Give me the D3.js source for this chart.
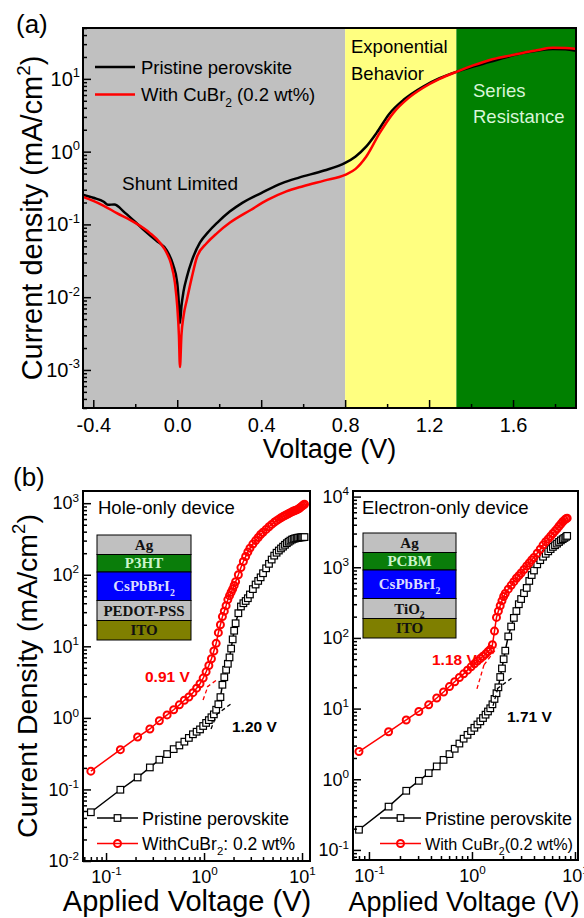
<!DOCTYPE html>
<meta charset="utf-8">
<style>
body { margin: 0; background: #fff; }
svg { font-family: "Liberation Sans", Arial, sans-serif; }
.frame { fill: none; stroke: #000; stroke-width: 2; }
.axis line { stroke: #000; stroke-width: 1.5; }
.axis path { display: none; }
.axis text { fill: #000; }
.inset text { font-family: "Liberation Serif", "Times New Roman", serif; font-weight: bold; font-size: 15px; }
</style>
<svg class="chart" width="584" height="918"></svg>
<script src="https://d3js.org/d3.v7.min.js"></script>
<script>

// ---------- data, panel (a): J-V curves on a log scale
var voltsPristineA = [-0.449, -0.40, -0.35, -0.33, -0.30, -0.25, -0.20, -0.16, -0.10, -0.05, -0.02, 0.0, 0.008, 0.013, 0.02, 0.03, 0.046, 0.07, 0.108, 0.15, 0.19, 0.25, 0.31, 0.40, 0.50, 0.58, 0.70, 0.80, 0.85, 0.90, 0.95, 1.01, 1.08, 1.17, 1.25, 1.33, 1.41, 1.49, 1.57, 1.65, 1.72, 1.79, 1.85, 1.90];
var jPristineA = [0.255, 0.232, 0.205, 0.186, 0.188, 0.145, 0.108, 0.084, 0.06, 0.044, 0.028, 0.0157, 0.008, 0.0044, 0.0075, 0.012, 0.019, 0.032, 0.056, 0.08, 0.105, 0.15, 0.198, 0.27, 0.37, 0.44, 0.55, 0.70, 0.86, 1.17, 1.81, 3.3, 5.2, 7.8, 10.2, 12.5, 14.8, 17.1, 20, 22.8, 24.5, 25.7, 25.5, 24.3];
var voltsCuBrA = [-0.449, -0.40, -0.35, -0.29, -0.20, -0.13, -0.08, -0.05, -0.03, -0.011, 0.0, 0.008, 0.013, 0.02, 0.03, 0.046, 0.07, 0.094, 0.14, 0.19, 0.25, 0.35, 0.43, 0.52, 0.60, 0.70, 0.80, 0.85, 0.90, 0.965, 1.03, 1.10, 1.17, 1.25, 1.33, 1.41, 1.49, 1.57, 1.65, 1.72, 1.79, 1.85, 1.90];
var jCuBrA = [0.239, 0.21, 0.18, 0.144, 0.105, 0.076, 0.055, 0.0405, 0.029, 0.0157, 0.0075, 0.003, 0.0011, 0.003, 0.0055, 0.0092, 0.019, 0.0357, 0.055, 0.076, 0.105, 0.158, 0.217, 0.285, 0.335, 0.40, 0.48, 0.58, 0.85, 1.81, 3.41, 5.4, 7.5, 10, 12.5, 15.3, 18.2, 20.5, 22.8, 25, 26.7, 26.5, 25.7];

var regionEdgesA = [-0.449, 0.8, 1.33, 1.9];
var regionColorsA = ["#c0c0c0", "#ffff80", "#008000"];
var yDomainA = [3e-4, 50];
var xTicksA = [-0.4, 0, 0.4, 0.8, 1.2, 1.6];
var xMinorA = [-0.2, 0.2, 0.6, 1.0, 1.4, 1.8];
var yTicksA = [1e-3, 1e-2, 1e-1, 1, 10];

// ---------- data, panel (b): space-charge-limited current, hole-only device
var holeVolts = [0.07, 0.14, 0.21, 0.28, 0.35, 0.42, 0.49, 0.56, 0.63, 0.70, 0.77, 0.84, 0.91, 0.98, 1.05, 1.12, 1.19, 1.26, 1.33, 1.40, 1.47, 1.54, 1.61, 1.68, 1.75, 1.82, 1.89, 1.96, 2.03, 2.10, 2.24, 2.38, 2.52, 2.66, 2.80, 2.94, 3.15, 3.36, 3.57, 3.78, 4.0, 4.3, 4.6, 4.9, 5.2, 5.5, 5.8, 6.1, 6.4, 6.7, 7.0, 7.3, 7.6, 7.9, 8.2, 8.5, 8.8, 9.1, 9.4, 9.7, 10.0, 10.3, 10.6];
var holePristine = [0.048, 0.099, 0.147, 0.203, 0.26, 0.312, 0.366, 0.412, 0.465, 0.525, 0.59, 0.64, 0.69, 0.77, 0.85, 0.93, 1.02, 1.12, 1.30, 1.55, 1.95, 2.9, 3.7, 4.7, 5.7, 7.0, 9.3, 12.5, 16.5, 21, 29, 36, 40, 43, 47, 53, 63, 73, 82, 92, 105, 123, 142, 163, 185, 203, 218, 233, 247, 262, 276, 289, 300, 310, 317, 322, 326, 329, 331, 333, 334, 335, 336];
var holeCuBr = [0.18, 0.36, 0.54, 0.70, 0.91, 1.10, 1.30, 1.52, 1.76, 1.96, 2.25, 2.6, 3.0, 3.6, 4.4, 5.4, 6.7, 8.6, 11.0, 15.5, 20, 26, 31, 37, 45, 51, 57, 63, 71, 80, 100, 126, 153, 180, 208, 235, 268, 300, 332, 365, 393, 430, 468, 505, 540, 570, 598, 625, 650, 672, 695, 716, 737, 757, 775, 792, 805, 825, 850, 880, 910, 940, 968];

// ---------- data, panel (b): electron-only device
var elecVolts = [0.08, 0.155, 0.23, 0.305, 0.38, 0.455, 0.53, 0.605, 0.68, 0.755, 0.83, 0.905, 0.98, 1.055, 1.13, 1.205, 1.28, 1.355, 1.43, 1.505, 1.58, 1.655, 1.73, 1.805, 1.88, 1.955, 2.03, 2.105, 2.25, 2.4, 2.55, 2.7, 2.85, 3.0, 3.2, 3.4, 3.6, 3.8, 4.0, 4.3, 4.6, 4.9, 5.2, 5.5, 5.8, 6.1, 6.4, 6.7, 7.0, 7.3, 7.6, 7.9, 8.2, 8.4];
var elecPristine = [0.193, 0.41, 0.687, 0.95, 1.22, 1.52, 1.88, 2.27, 2.7, 3.2, 3.75, 4.25, 4.8, 5.35, 5.95, 6.6, 7.35, 8.2, 9.1, 10.1, 11.5, 13.7, 16.5, 20, 28, 37, 50, 66, 105, 145, 192, 240, 300, 355, 430, 510, 640, 776, 900, 1100, 1260, 1410, 1550, 1680, 1810, 1940, 2050, 2160, 2280, 2400, 2500, 2600, 2700, 2780];
var elecCuBr = [2.47, 4.7, 6.9, 9.1, 11.3, 14.1, 17.2, 20.5, 24, 27.5, 31, 35, 39, 43, 47, 51, 55, 59, 64, 69, 80, 125, 195, 240, 285, 335, 385, 425, 490, 555, 625, 700, 760, 830, 930, 1040, 1150, 1270, 1380, 1580, 1800, 2060, 2300, 2520, 2750, 3000, 3250, 3500, 3800, 4100, 4400, 4650, 4850, 4950];

// tangent lines used for the trap-filled limit voltages, [V, J] end points
var holeTangentsCuBr = [[[0.977, 1.78], [1.099, 2.79]], [[1.073, 2.70], [1.39, 3.5]]];
var holeTangentsPristine = [[[1.179, 0.70], [1.326, 1.06]], [[1.326, 1.10], [1.93, 1.61]]];
var elecTangentsCuBr = [[[1.118, 19.0], [1.308, 41.5]], [[1.308, 41.5], [1.748, 72.3]]];
var elecTangentsPristine = [[[1.60, 10.9], [1.788, 19.6]], [[1.749, 19.0], [2.445, 27.2]]];

var holeLayers = ["Ag", "P3HT", "CsPbBrI_2", "PEDOT-PSS", "ITO"];
var elecLayers = ["Ag", "PCBM", "CsPbBrI_2", "TiO_2", "ITO"];

var holeYDomain = [0.01, 1480], holeXDomain = [0.0582, 12.06];
var elecYDomain = [0.072, 12000], elecXDomain = [0.070, 10.7];
var holeYTicks = [1e-2, 1e-1, 1, 10, 100, 1000];
var elecYTicks = [1e-1, 1, 10, 100, 1000, 10000];
var bXTicks = [0.1, 1, 10];

// ---------- helpers
var svg = d3.select(".chart");

// write text made of plain / superscript / subscript pieces
function rich(textSel, parts, fs) {
  var shift = 0;
  parts.forEach(function(p) {
    var ts = textSel.append("tspan").text(p[0]);
    var target = p[1] === "sup" ? -0.42 * fs : p[1] === "sub" ? 0.3 * fs : 0;
    if (target !== shift) ts.attr("dy", target - shift);
    if (p[1]) ts.attr("font-size", fs * 0.65);
    shift = target;
  });
}

function label(x, y, parts, fs, opts) {
  opts = opts || {};
  var t = svg.append("text").attr("x", x).attr("y", y).attr("font-size", fs)
    .attr("fill", opts.fill || "#000")
    .attr("text-anchor", opts.anchor || "start")
    .attr("font-weight", opts.bold ? "bold" : null);
  if (opts.rotate) t.attr("x", null).attr("y", null).attr("transform", "translate(" + x + "," + y + ") rotate(-90)");
  rich(t, parts, fs);
  return t;
}

function powTicks(g, fs) {
  g.selectAll(".tick text").each(function(d) {
    var t = d3.select(this).text(null);
    rich(t, [["10", ""], [String(Math.round(Math.log10(d))), "sup"]], fs);
  });
}

function logMinor(domain) {
  var out = [];
  for (var e = Math.floor(Math.log10(domain[0])); e <= Math.ceil(Math.log10(domain[1])); e++)
    for (var k = 2; k <= 9; k++) {
      var v = k * Math.pow(10, e);
      if (v >= domain[0] && v <= domain[1]) out.push(v);
    }
  return out;
}

function axes(box, x, y, o) {
  svg.append("g").attr("class", "axis").attr("transform", "translate(0," + box.bottom + ")")
    .call(d3.axisBottom(x).tickValues(o.xMinor).tickSizeInner(-4).tickSizeOuter(0).tickFormat(""));
  var xb = svg.append("g").attr("class", "axis").attr("transform", "translate(0," + box.bottom + ")")
    .call(d3.axisBottom(x).tickValues(o.xTicks).tickSizeInner(-8).tickSizeOuter(0).tickPadding(o.xPad)
      .tickFormat(o.xFmt || function(d) { return d; }));
  xb.attr("font-size", o.fs).attr("font-family", null);
  if (o.xPow) powTicks(xb, o.fs);

  svg.append("g").attr("class", "axis").attr("transform", "translate(" + box.left + ",0)")
    .call(d3.axisLeft(y).tickValues(o.yMinor).tickSizeInner(-4).tickSizeOuter(0).tickFormat(""));
  var yb = svg.append("g").attr("class", "axis").attr("transform", "translate(" + box.left + ",0)")
    .call(d3.axisLeft(y).tickValues(o.yTicks).tickSizeInner(-8).tickSizeOuter(0).tickPadding(o.yPad)
      .tickFormat(function(d) { return d; }));
  yb.attr("font-size", o.fs).attr("font-family", null);
  powTicks(yb, o.fs);

  svg.append("rect").attr("class", "frame")
    .attr("x", box.left).attr("y", box.top)
    .attr("width", box.right - box.left).attr("height", box.bottom - box.top);
}

// ---------- panel (a)
var boxA = {left: 83, right: 576, top: 28, bottom: 408};
var xA = d3.scaleLinear().domain([regionEdgesA[0], regionEdgesA[regionEdgesA.length - 1]]).range([boxA.left, boxA.right]);
var yA = d3.scaleLog().domain(yDomainA).range([boxA.bottom, boxA.top]);

svg.append("g").selectAll("rect").data(regionColorsA).join("rect")
  .attr("x", function(d, i) { return xA(regionEdgesA[i]); })
  .attr("width", function(d, i) { return xA(regionEdgesA[i + 1]) - xA(regionEdgesA[i]); })
  .attr("y", boxA.top).attr("height", boxA.bottom - boxA.top)
  .attr("fill", function(d) { return d; });

var lineA = d3.line().x(function(d) { return xA(d[0]); }).y(function(d) { return yA(d[1]); })
  .curve(d3.curveMonotoneX);
svg.append("path").datum(d3.zip(voltsPristineA, jPristineA)).attr("d", lineA)
  .attr("fill", "none").attr("stroke", "#000").attr("stroke-width", 2.5);
svg.append("path").datum(d3.zip(voltsCuBrA, jCuBrA)).attr("d", lineA)
  .attr("fill", "none").attr("stroke", "#ff0000").attr("stroke-width", 2.5);

label(122, 190, [["Shunt Limited", ""]], 19);
label(351, 53, [["Exponential", ""]], 18.5);
label(351, 80, [["Behavior", ""]], 18.5);
label(473, 97, [["Series", ""]], 18.5, {fill: "#d8f5d8"});
label(473, 123, [["Resistance", ""]], 18.5, {fill: "#d8f5d8"});

// legend (a)
svg.append("line").attr("x1", 95).attr("x2", 135).attr("y1", 67).attr("y2", 67)
  .attr("stroke", "#000").attr("stroke-width", 2.5);
svg.append("line").attr("x1", 95).attr("x2", 135).attr("y1", 94.5).attr("y2", 94.5)
  .attr("stroke", "#ff0000").attr("stroke-width", 2.5);
label(141, 73.5, [["Pristine perovskite", ""]], 18.5);
label(141, 101, [["With CuBr", ""], ["2", "sub"], [" (0.2 wt%)", ""]], 18.5);

axes(boxA, xA, yA, {
  xTicks: xTicksA, xMinor: xMinorA, xPad: 10, fs: 20,
  xFmt: function(d) { return d.toFixed(1); },
  yTicks: yTicksA, yMinor: logMinor(yDomainA), yPad: 3
});

label(16, 33, [["(a)", ""]], 26);
label(42, 218, [["Current density (mA/cm", ""], ["2", "sup"], [")", ""]], 29, {rotate: true, anchor: "middle"});
label((boxA.left + boxA.right) / 2, 458, [["Voltage (V)", ""]], 27, {anchor: "middle"});

// ---------- panel (b)
var layerFill = {"Ag": "#c0c0c0", "P3HT": "#0a7d0a", "PCBM": "#0a7d0a", "CsPbBrI_2": "#0000ff",
  "PEDOT-PSS": "#c0c0c0", "TiO_2": "#c0c0c0", "ITO": "#7f7f00"};
var layerInk = {"P3HT": "#ccf5cc", "PCBM": "#ccf5cc", "CsPbBrI_2": "#dcdcff"};
var layerH = [19.5, 17.5, 28.5, 20, 19.5];

function stack(names, x0, y0, w) {
  var g = svg.append("g").attr("class", "inset");
  var yy = y0;
  names.forEach(function(n, i) {
    var h = layerH[i];
    g.append("rect").attr("x", x0).attr("y", yy).attr("width", w).attr("height", h)
      .attr("fill", layerFill[n]).attr("stroke", "#000").attr("stroke-width", 1);
    var t = g.append("text").attr("x", x0 + w / 2).attr("y", yy + h / 2 + 5)
      .attr("text-anchor", "middle").attr("fill", layerInk[n] || "#111");
    var bits = n.split("_");
    rich(t, bits.length > 1 ? [[bits[0], ""], [bits[1], "sub"]] : [[n, ""]], 15);
    yy += h;
  });
}

function squares(pts, x, y) {
  svg.append("g").selectAll("rect").data(pts).join("rect")
    .attr("x", function(d) { return x(d[0]) - 3.3; })
    .attr("y", function(d) { return y(d[1]) - 3.3; })
    .attr("width", 6.6).attr("height", 6.6)
    .attr("fill", "#fff").attr("stroke", "#000").attr("stroke-width", 1.2);
}
function circles(pts, x, y) {
  svg.append("g").selectAll("circle").data(pts).join("circle")
    .attr("cx", function(d) { return x(d[0]); })
    .attr("cy", function(d) { return y(d[1]); })
    .attr("r", 3.5).attr("fill", "none").attr("stroke", "#ff0000").attr("stroke-width", 2);
}

function devicePanel(c) {
  var x = d3.scaleLog().domain(c.xDomain).range([c.box.left, c.box.right]);
  var y = d3.scaleLog().domain(c.yDomain).range([c.box.bottom, c.box.top]);
  var line = d3.line().x(function(d) { return x(d[0]); }).y(function(d) { return y(d[1]); });
  var black = d3.zip(c.volts, c.pristine), red = d3.zip(c.volts, c.cubr);

  svg.append("path").datum(black).attr("d", line).attr("fill", "none")
    .attr("stroke", "#000").attr("stroke-width", 1.5);
  squares(black, x, y);
  svg.append("path").datum(red).attr("d", line).attr("fill", "none")
    .attr("stroke", "#ff0000").attr("stroke-width", 1.5);
  circles(red, x, y);

  [[c.tanCuBr, "#ff0000"], [c.tanPristine, "#000"]].forEach(function(tp) {
    svg.append("g").selectAll("path").data(tp[0]).join("path").attr("d", line)
      .attr("fill", "none").attr("stroke", tp[1]).attr("stroke-width", 1.3)
      .attr("stroke-dasharray", "4,3");
  });

  axes(c.box, x, y, {
    xTicks: bXTicks, xMinor: logMinor(c.xDomain), xPad: 9, fs: 18, xPow: true,
    yTicks: c.yTicks, yMinor: logMinor(c.yDomain), yPad: 4
  });

  // legend
  var lx = c.legend[0], ly = c.legend[1];
  svg.append("line").attr("x1", lx).attr("x2", lx + 41).attr("y1", ly).attr("y2", ly)
    .attr("stroke", "#000").attr("stroke-width", 1.5);
  svg.append("rect").attr("x", lx + 17.2).attr("y", ly - 3.3).attr("width", 6.6).attr("height", 6.6)
    .attr("fill", "#fff").attr("stroke", "#000").attr("stroke-width", 1.2);
  svg.append("line").attr("x1", lx).attr("x2", lx + 41).attr("y1", ly + 25.5).attr("y2", ly + 25.5)
    .attr("stroke", "#ff0000").attr("stroke-width", 1.5);
  svg.append("circle").attr("cx", lx + 20.5).attr("cy", ly + 25.5).attr("r", 3.5)
    .attr("fill", "none").attr("stroke", "#ff0000").attr("stroke-width", 2);
  label(lx + 45, ly + 6.5, [["Pristine perovskite", ""]], 18);
  label(lx + 45, ly + 32, c.cubrLabel, c.cubrSize);
}

devicePanel({
  box: {left: 83, right: 310, top: 491, bottom: 861},
  xDomain: holeXDomain, yDomain: holeYDomain, yTicks: holeYTicks,
  volts: holeVolts, pristine: holePristine, cubr: holeCuBr,
  tanCuBr: holeTangentsCuBr, tanPristine: holeTangentsPristine,
  legend: [97, 818], cubrSize: 17.5,
  cubrLabel: [["WithCuBr", ""], ["2", "sub"], [": 0.2 wt%", ""]]
});
devicePanel({
  box: {left: 353, right: 578, top: 491, bottom: 860},
  xDomain: elecXDomain, yDomain: elecYDomain, yTicks: elecYTicks,
  volts: elecVolts, pristine: elecPristine, cubr: elecCuBr,
  tanCuBr: elecTangentsCuBr, tanPristine: elecTangentsPristine,
  legend: [380, 818], cubrSize: 16.2,
  cubrLabel: [["With CuBr", ""], ["2", "sub"], ["(0.2 wt%)", ""]]
});

stack(holeLayers, 97, 535, 94);
stack(elecLayers, 363, 533, 93);

label(98, 514, [["Hole-only device", ""]], 18.5);
label(362, 514, [["Electron-only device", ""]], 18.5);
label(145, 682, [["0.91 V", ""]], 15.5, {fill: "#ff0000", bold: true});
label(232, 732, [["1.20 V", ""]], 15.5, {bold: true});
label(432, 665, [["1.18 V", ""]], 15.5, {fill: "#ff0000", bold: true});
label(507, 722, [["1.71 V", ""]], 15.5, {bold: true});

label(13, 486, [["(b)", ""]], 26);
label(37, 676, [["Current Density (mA/cm", ""], ["2", "sup"], [")", ""]], 28.5, {rotate: true, anchor: "middle"});
label(187, 911, [["Applied Voltage (V)", ""]], 29, {anchor: "middle"});
label(464, 911, [["Applied Voltage (V)", ""]], 27, {anchor: "middle"});
</script>
